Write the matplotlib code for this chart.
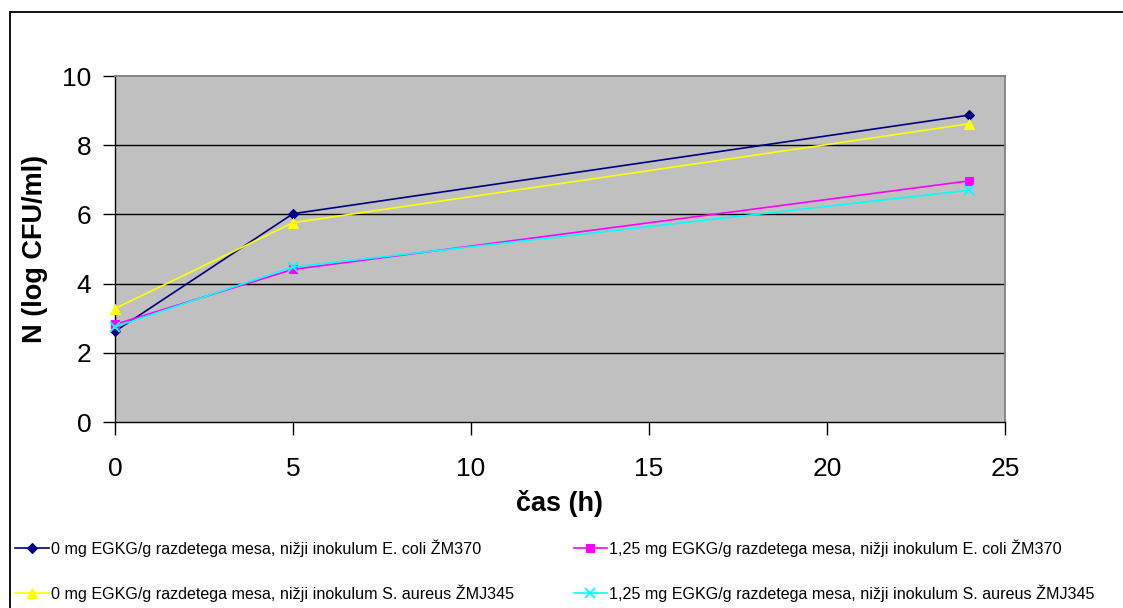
import matplotlib
matplotlib.use("Agg")
import matplotlib.pyplot as plt
from matplotlib.patches import Rectangle

plt.rcParams['font.family'] = ['Liberation Sans', 'DejaVu Sans']

# Sampling times (h)
time_h = [0, 5, 24]

# Bacterial counts, N (log CFU/ml)
ecoli_0 = [2.62, 6.02, 8.87]
ecoli_125 = [2.82, 4.41, 6.97]
saureus_0 = [3.28, 5.76, 8.62]
saureus_125 = [2.75, 4.48, 6.70]

labels = [
    "0 mg EGKG/g razdetega mesa, nižji inokulum E. coli ŽM370",
    "1,25 mg EGKG/g razdetega mesa, nižji inokulum E. coli ŽM370",
    "0 mg EGKG/g razdetega mesa, nižji inokulum S. aureus ŽMJ345",
    "1,25 mg EGKG/g razdetega mesa, nižji inokulum S. aureus ŽMJ345",
]

W, H = 1123, 608
fig = plt.figure(figsize=(W / 100, H / 100), dpi=100)
fig.patch.set_facecolor("white")

# outer chart-area frame
frame = Rectangle((9.5 / W, -0.02), 1.05, 1 - 11.5 / H + 0.02,
                  transform=fig.transFigure, fill=False,
                  edgecolor="black", linewidth=1.3, clip_on=False)
fig.add_artist(frame)

left, right, top, bottom = 115, 1005, 76, 422
ax = fig.add_axes([left / W, (H - bottom) / H, (right - left) / W, (bottom - top) / H])
ax.set_facecolor("#C0C0C0")

ax.set_xlim(0, 25)
ax.set_ylim(0, 10)
ax.set_xticks(range(0, 26, 5))
ax.set_yticks(range(0, 11, 2))
for y in range(2, 10, 2):
    ax.axhline(y, color="black", linewidth=1.0, zorder=1)

for side in ("top", "right"):
    ax.spines[side].set_color("#808080")
    ax.spines[side].set_linewidth(1.3)
for side in ("left", "bottom"):
    ax.spines[side].set_color("black")
    ax.spines[side].set_linewidth(1.0)

ax.tick_params(axis="both", direction="out", length=9, width=1,
               labelsize=19, color="black")
ax.tick_params(axis="y", pad=8)
ax.tick_params(axis="x", pad=16)

series = [
    (ecoli_0, "#000080", "D", 5.5, labels[0]),
    (ecoli_125, "#FF00FF", "s", 6, labels[1]),
    (saureus_0, "#FFFF00", "^", 7, labels[2]),
    (saureus_125, "#00FFFF", "x", 7, labels[3]),
]
handles = {}
for vals, col, mk, ms, lab in series:
    line, = ax.plot(time_h, vals, color=col, marker=mk, markersize=ms,
                    linewidth=1.2, markeredgewidth=1.3 if mk == "x" else 0.8,
                    clip_on=False, zorder=3, label=lab)
    handles[lab] = line

ax.set_xlabel("čas (h)", fontsize=19.5, fontweight="bold", labelpad=7)
ax.set_ylabel("N (log CFU/ml)", fontsize=19.5, fontweight="bold", labelpad=10)

order = [labels[0], labels[2], labels[1], labels[3]]
fig.legend([handles[l] for l in order], order, ncol=2, loc="upper left",
           bbox_to_anchor=(9 / W, 1 - 533 / H), frameon=False,
           fontsize=11.6, handlelength=2.1, handletextpad=0.1,
           columnspacing=3.7, labelspacing=1.68, borderaxespad=0)

fig.savefig("out.png", dpi=100)
